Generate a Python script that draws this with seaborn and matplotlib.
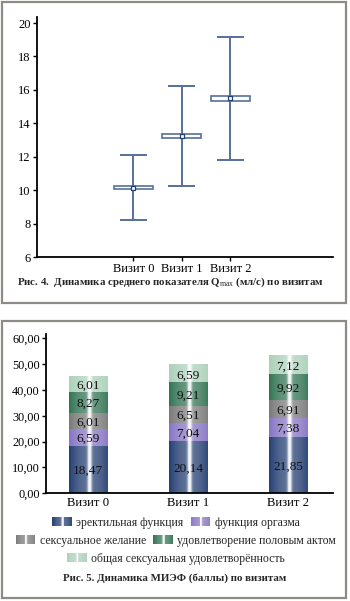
import numpy as np
import pandas as pd
import matplotlib
matplotlib.use("Agg")
import matplotlib.pyplot as plt
from matplotlib.patches import Rectangle, Patch
from matplotlib.legend_handler import HandlerBase
from matplotlib.colors import to_rgb
import seaborn as sns

# ---------------- data ----------------
visits = ["Визит 0", "Визит 1", "Визит 2"]

# Q max (ml/s): mean, box (mean ± SE) and whiskers
qmax_mean = [10.15, 13.22, 15.50]
qmax_box_low = [10.05, 13.10, 15.33]
qmax_box_high = [10.26, 13.35, 15.65]
qmax_whisker_low = [8.20, 10.22, 11.80]
qmax_whisker_high = [12.11, 16.23, 19.18]

# IIEF domains (points)
domains = ["эректильная функция", "функция оргазма", "сексуальное желание",
           "удовлетворение половым актом", "общая сексуальная удовлетворённость"]
erectile = [18.47, 20.14, 21.85]
orgasm = [6.59, 7.04, 7.38]
desire = [6.01, 6.51, 6.91]
intercourse = [8.27, 9.21, 9.92]
overall = [6.01, 6.59, 7.12]

domain_colors = ["#1f3a6f", "#8270c2", "#767676", "#2d7050", "#a9cfb7"]

q_ticks = [6, 8, 10, 12, 14, 16, 18, 20]
iief_ticks = [0, 10, 20, 30, 40, 50, 60]

# ---------------- style ----------------
sns.set_theme(style="ticks")
plt.rcParams["font.family"] = ["Liberation Serif", "DejaVu Serif"]
plt.rcParams["mathtext.fontset"] = "custom"
plt.rcParams["mathtext.rm"] = "Liberation Serif"
plt.rcParams["mathtext.bf"] = "Liberation Serif:bold"
plt.rcParams["axes.edgecolor"] = "black"
plt.rcParams["xtick.color"] = "black"
plt.rcParams["ytick.color"] = "black"

W, H = 350, 601
fig = plt.figure(figsize=(W / 100, H / 100), dpi=100)
fig.patch.set_facecolor("white")


def fig_box(x0, y0, x1, y1):
    return [x0 / W, 1 - y1 / H, (x1 - x0) / W, (y1 - y0) / H]


def shade(color, t, c=0.53):
    base = np.array(to_rgb(color))
    d = abs(t - c)
    light = 0.28 * (1 - (d / 0.55) ** 2) + 0.8 * np.exp(-(d / 0.055) ** 2)
    light = float(np.clip(light, 0, 0.95))
    return base + (1 - base) * light


def gradient_strip(color, n=60):
    t = (np.arange(n) + 0.5) / n
    return np.array([shade(color, v) for v in t])[None, :, :]


# panel frames
for (x0, y0, x1, y1) in [(2, 2, 346, 303), (2, 321, 346, 598)]:
    fig.add_artist(Rectangle((x0 / W, 1 - y1 / H), (x1 - x0) / W, (y1 - y0) / H,
                             transform=fig.transFigure, fill=False,
                             edgecolor="#8e8a86", lw=1.6))

# ---------------- Fig. 4: Q max ----------------
line_col = "#56709a"
ax1 = fig.add_axes(fig_box(37, 16.7, 333, 257))
pos = np.arange(len(visits))
ax1.vlines(pos, qmax_whisker_low, qmax_whisker_high, color=line_col, lw=1.4, zorder=2)
ax1.hlines(qmax_whisker_low, pos - 0.28, pos + 0.28, color=line_col, lw=1.4, zorder=2)
ax1.hlines(qmax_whisker_high, pos - 0.28, pos + 0.28, color=line_col, lw=1.4, zorder=2)
for p, lo, hi in zip(pos, qmax_box_low, qmax_box_high):
    ax1.add_patch(Rectangle((p - 0.40, lo), 0.80, hi - lo, facecolor="white",
                            edgecolor=line_col, lw=1.2, zorder=3))
sns.scatterplot(x=pos, y=qmax_mean, marker="s", s=10, color="white",
                edgecolor="#23406e", linewidth=0.9, zorder=4, ax=ax1, legend=False)
ax1.set_xlim(-1.99, 4.12)
ax1.set_ylim(6, 20.38)
ax1.set_yticks(q_ticks)
ax1.set_xticks(pos)
ax1.set_xticklabels(visits)
ax1.set_xlabel("")
ax1.set_ylabel("")
sns.despine(ax=ax1)
for s in ("left", "bottom"):
    ax1.spines[s].set_linewidth(1.3)
ax1.tick_params(axis="both", length=3, width=1, labelsize=9.0, pad=1.5)

fig.text(170 / W, 1 - 282 / H,
         r"Рис. 4.  Динамика среднего показателя $\mathbf{Q}_{\mathrm{max}}$ (мл/с) по визитам",
         ha="center", va="center", fontsize=7.85, fontweight="bold")

# ---------------- Fig. 5: IIEF stacked bars ----------------
values = [erectile, orgasm, desire, intercourse, overall]
tops = np.cumsum(np.array(values), axis=0)
rows = []
for d, dom in enumerate(domains):
    for v, vis in enumerate(visits):
        rows.append({"visit": vis, "domain": dom, "top": tops[d, v]})
df = pd.DataFrame(rows)

ax2 = fig.add_axes(fig_box(46, 334, 333, 493.3))
draw_order = domains[::-1]
sns.barplot(data=df, x="visit", y="top", hue="domain", hue_order=draw_order,
            palette=dict(zip(domains, domain_colors)), dodge=False, width=0.39,
            errorbar=None, legend=False, ax=ax2)

for cont, dom in zip(ax2.containers, draw_order):
    d = domains.index(dom)
    strip = gradient_strip(domain_colors[d])
    for v, patch in enumerate(cont.patches):
        x0 = patch.get_x()
        w = patch.get_width()
        top = tops[d, v]
        bottom = top - values[d][v]
        patch.set_visible(False)
        ax2.imshow(strip, extent=[x0, x0 + w, bottom, top], aspect="auto",
                   interpolation="bilinear", zorder=2 + d * 0.01)
        ax2.text(x0 + w / 2, (bottom + top) / 2,
                 f"{values[d][v]:.2f}".replace(".", ","),
                 ha="center", va="center_baseline", fontsize=9.6, color="#111111",
                 zorder=5)

ax2.set_aspect("auto")
ax2.set_xlim(-0.42, 2.45)
ax2.set_ylim(0, 61.66)
ax2.set_yticks(iief_ticks)
ax2.set_yticklabels([f"{t:.2f}".replace(".", ",") for t in iief_ticks])
ax2.set_xlabel("")
ax2.set_ylabel("")
sns.despine(ax=ax2)
for s in ("left", "bottom"):
    ax2.spines[s].set_linewidth(1.3)
ax2.tick_params(axis="y", length=3, width=1, labelsize=8.8, pad=1.5)
ax2.tick_params(axis="x", length=0, labelsize=9.2, pad=3)


class GradientHandler(HandlerBase):
    def __init__(self, color):
        super().__init__()
        self.color = color

    def create_artists(self, legend, orig_handle, xdescent, ydescent,
                       width, height, fontsize, trans):
        n = 24
        arts = []
        for k in range(n):
            c = shade(self.color, (k + 0.5) / n)
            arts.append(Rectangle((-xdescent + k * width / n, -ydescent),
                                  width / n * 1.05, height, facecolor=c,
                                  edgecolor="none", transform=trans))
        return arts


handles = [Patch(label=d) for d in domains]
hmap = {h: GradientHandler(c) for h, c in zip(handles, domain_colors)}
for idx, y in zip([[0, 1], [2, 3], [4]], [522.7, 540.7, 558.7]):
    fig.legend(handles=[handles[i] for i in idx], handler_map=hmap,
               loc="center", bbox_to_anchor=(176 / W, 1 - y / H), ncol=len(idx),
               frameon=False, fontsize=8.5, handlelength=1.65, handleheight=0.85,
               handletextpad=0.4, columnspacing=0.6, borderaxespad=0, borderpad=0)

fig.text(174.5 / W, 1 - 578 / H, "Рис. 5. Динамика МИЭФ (баллы) по визитам",
         ha="center", va="center", fontsize=7.85, fontweight="bold")

fig.savefig("out.png", dpi=100, facecolor="white")
